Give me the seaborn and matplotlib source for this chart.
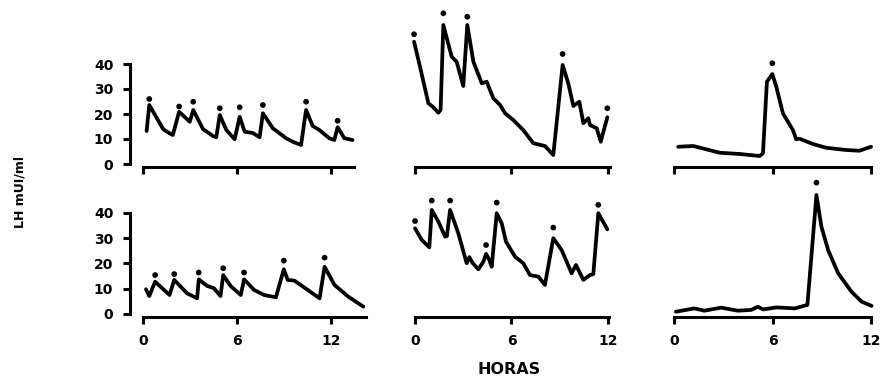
import matplotlib
matplotlib.use("Agg")
import matplotlib.pyplot as plt
import seaborn as sns
import pandas as pd

# LH (mUI/ml) vs time (hours), six subjects
tl_hours = [0.23, 0.4, 1.29, 1.68, 1.9, 2.3, 2.98, 3.2, 3.83, 4.46, 4.67, 4.89, 5.31, 5.84, 6.16,
            6.48, 7.0, 7.43, 7.64, 8.27, 9.12, 9.54, 10.07, 10.39, 10.81, 11.24, 11.87, 12.19,
            12.4, 12.83, 13.35]
tl_lh = [13.2, 23.6, 13.9, 12.3, 11.6, 20.9, 16.9, 21.6, 13.9, 11.2, 10.7, 19.6, 13.6, 9.9, 18.9,
         12.9, 12.4, 10.7, 20.3, 14.3, 10.3, 8.9, 7.6, 21.6, 15.2, 13.6, 10.3, 9.6,
         14.7, 10.3, 9.6]
tl_peak_hours = [0.4, 2.3, 3.2, 4.89, 6.16, 7.64, 10.39, 12.4]
tl_peak_lh = [26.0, 23.0, 24.9, 22.3, 22.7, 23.6, 24.9, 17.3]

bl_hours = [0.19, 0.4, 0.77, 1.69, 1.99, 2.8, 3.45, 3.55, 4.09, 4.52, 4.94, 5.11, 5.58, 6.23,
            6.44, 7.08, 7.72, 8.47, 8.97, 9.22, 9.65, 10.5, 11.25, 11.57, 12.2, 13.07, 14.04]
bl_lh = [9.8, 7.1, 12.8, 7.5, 13.5, 8.2, 6.2, 13.7, 11.1, 10.2, 7.1, 15.4, 11.1, 7.5,
         13.7, 9.5, 7.5, 6.6, 17.7, 13.5, 13.2, 9.5, 6.2, 18.7, 11.5, 6.9, 2.9]
bl_peak_hours = [0.77, 1.99, 3.55, 5.11, 6.44, 8.97, 11.57]
bl_peak_lh = [15.4, 15.8, 16.4, 18.1, 16.4, 21.1, 22.3]

tm_hours = [-0.06, 0.31, 0.83, 1.14, 1.45, 1.59, 1.76, 2.28, 2.59, 3.0, 3.25, 3.63, 4.15, 4.46,
            4.87, 5.29, 5.6, 6.11, 6.73, 7.36, 8.08, 8.6, 9.18, 9.53, 9.85, 10.22, 10.47,
            10.78, 10.88, 11.3, 11.55, 11.96]
tm_lh = [48.9, 38.9, 24.3, 22.7, 20.5, 21.6, 55.6, 42.9, 40.9, 31.2, 55.6, 40.9, 32.3, 32.9,
         26.3, 23.6, 20.3, 17.6, 13.6, 8.3, 7.2, 3.6, 39.6, 32.3, 23.2, 24.9, 16.3,
         18.3, 15.6, 14.3, 8.9, 18.7]
tm_peak_hours = [-0.06, 1.76, 3.25, 9.18, 11.96]
tm_peak_lh = [51.9, 60.3, 58.9, 44.0, 22.3]

bm_hours = [0.0, 0.42, 0.89, 1.04, 1.45, 1.87, 1.98, 2.18, 2.69, 3.21, 3.38, 3.59, 3.94, 4.25,
            4.42, 4.62, 4.77, 5.08, 5.39, 5.66, 6.22, 6.73, 7.15, 7.67, 8.08, 8.6, 9.12,
            9.74, 10.01, 10.47, 10.88, 11.09, 11.4, 11.96]
bm_lh = [33.9, 29.3, 26.4, 41.2, 36.6, 30.6, 30.8, 41.2, 32.0, 20.1, 22.5, 20.1, 17.7, 20.7,
         23.8, 21.4, 18.7, 39.9, 35.9, 28.6, 22.7, 20.1, 15.4, 14.8, 11.5, 30.0, 25.3,
         16.1, 19.4, 13.5, 15.4, 15.8, 39.9, 33.5]
bm_peak_hours = [0.0, 1.04, 2.18, 4.42, 5.08, 8.6, 11.4]
bm_peak_lh = [36.8, 44.9, 44.9, 27.3, 44.1, 34.2, 43.2]

tr_hours = [0.26, 1.17, 2.79, 4.0, 5.21, 5.41, 5.65, 5.98, 6.22, 6.62, 7.23, 7.43, 7.64, 8.44,
            9.25, 10.46, 11.27, 11.98]
tr_lh = [6.9, 7.2, 4.5, 4.0, 3.2, 4.3, 32.9, 36.0, 30.9, 20.3, 13.6, 9.9, 10.1, 8.0,
         6.5, 5.6, 5.3, 6.9]
tr_peak_hours = [5.98]
tr_peak_lh = [40.3]

br_hours = [0.12, 1.24, 1.85, 2.87, 3.88, 4.7, 5.1, 5.41, 6.22, 7.34, 8.11, 8.66, 8.96, 9.37,
            9.98, 10.79, 11.4, 12.01]
br_lh = [0.9, 2.2, 1.3, 2.5, 1.3, 1.6, 2.9, 1.8, 2.6, 2.2, 3.6, 47.1, 34.6, 25.3,
         16.1, 8.8, 4.9, 3.2]
br_peak_hours = [8.66]
br_peak_lh = [52.0]

sns.set_style("ticks")
plt.rcParams["font.family"] = ["DejaVu Sans"]
plt.rcParams["font.weight"] = "bold"
for key in ["text.color", "axes.labelcolor", "xtick.color", "ytick.color", "axes.edgecolor"]:
    plt.rcParams[key] = "black"

W, H = 885, 381
fig = plt.figure(figsize=(W / 100, H / 100), dpi=100)


def px_axes(left, right, top, bottom):
    return fig.add_axes([left / W, 1 - bottom / H, (right - left) / W, (bottom - top) / H])


panels = [
    # hours, lh, peak hours, peak lh, (left, right, top, bottom) px, xlim, ylim, x-axis end, col, row
    (tl_hours, tl_lh, tl_peak_hours, tl_peak_lh, (138.3, 369, 2.75, 167), (-0.3, 14.4), (-1.2, 64.5), 13.45, 0, 0),
    (bl_hours, bl_lh, bl_peak_hours, bl_peak_lh, (138.3, 369, 177.6, 317), (-0.3, 14.4), (-1.2, 54), 14.2, 0, 1),
    (tm_hours, tm_lh, tm_peak_hours, tm_peak_lh, (408.6, 616, 2.75, 167), (-0.4, 12.5), (-1.2, 64.5), 12.15, 1, 0),
    (bm_hours, bm_lh, bm_peak_hours, bm_peak_lh, (408.6, 616, 177.6, 317), (-0.4, 12.5), (-1.2, 54), 12.05, 1, 1),
    (tr_hours, tr_lh, tr_peak_hours, tr_peak_lh, (669, 878, 2.75, 167), (-0.3, 12.4), (-1.2, 64.5), 12.0, 2, 0),
    (br_hours, br_lh, br_peak_hours, br_peak_lh, (669, 878, 177.6, 317), (-0.3, 12.4), (-1.2, 54), 12.0, 2, 1),
]

for hours, lh, ph, plh, box, xlim, ylim, xend, col, row in panels:
    ax = px_axes(*box)
    ax.patch.set_alpha(0)
    df = pd.DataFrame({"horas": hours, "lh": lh})
    sns.lineplot(data=df, x="horas", y="lh", ax=ax, color="black", lw=2.7,
                 solid_joinstyle="round", solid_capstyle="round")
    sns.scatterplot(x=ph, y=plh, ax=ax, color="black", s=17, edgecolor="none")
    ax.set_xlim(*xlim)
    ax.set_ylim(*ylim)
    ax.set_xlabel("")
    ax.set_ylabel("")
    for side in ["top", "right"]:
        ax.spines[side].set_visible(False)
    ax.spines["bottom"].set_bounds(0, xend)
    ax.spines["bottom"].set_linewidth(2.2)
    ax.set_xticks([0, 6, 12])
    ax.tick_params(axis="x", direction="out", length=5, width=2.2, pad=7,
                   labelsize=10, labelbottom=(row == 1))
    if col == 0:
        ax.spines["left"].set_position(("outward", 6))
        ax.spines["left"].set_bounds(0, 40)
        ax.spines["left"].set_linewidth(2.2)
        ax.set_yticks([0, 10, 20, 30, 40])
        ax.tick_params(axis="y", direction="out", length=5, width=2.2, pad=7, labelsize=10)
    else:
        ax.spines["left"].set_visible(False)
        ax.set_yticks([])

fig.text(20 / W, 1 - 192 / H, "LH mUI/ml", rotation=90, ha="center", va="center",
         fontsize=9, fontweight="bold")
fig.text(509 / W, 1 - 370 / H, "HORAS", ha="center", va="center",
         fontsize=11.5, fontweight="bold")

fig.savefig("out.png", dpi=100)
